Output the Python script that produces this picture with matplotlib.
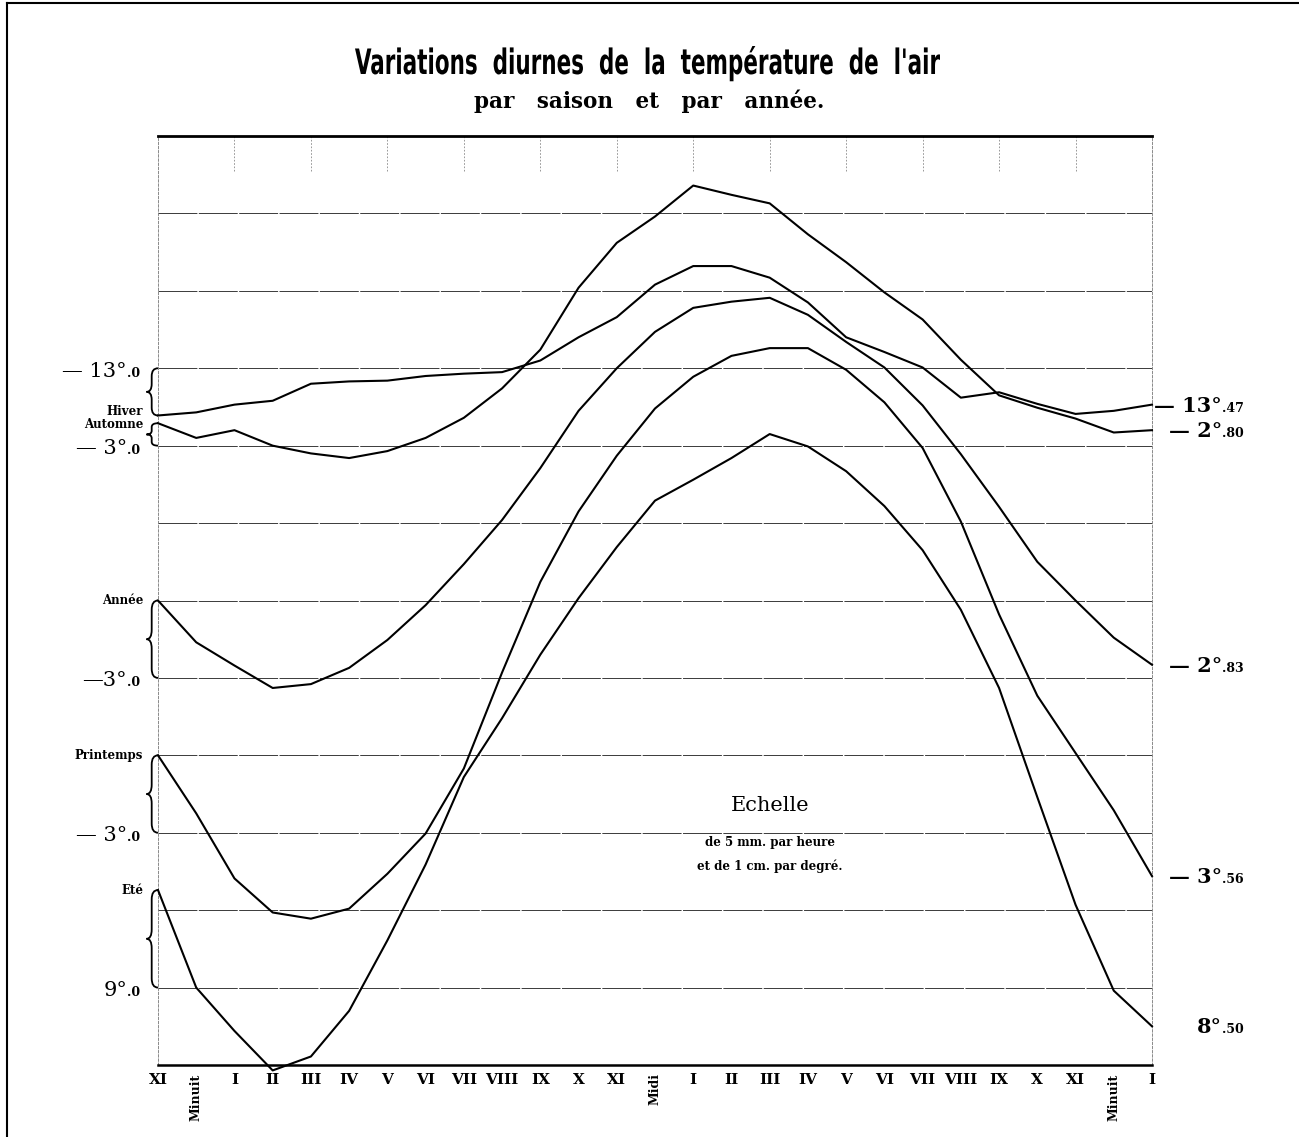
import numpy as np
import matplotlib.pyplot as plt
from matplotlib.path import Path
from matplotlib.patches import PathPatch
from matplotlib.lines import Line2D
from matplotlib.textpath import TextPath
from matplotlib.font_manager import FontProperties
from matplotlib.transforms import Affine2D

# heures, de XI du soir a I du matin (26 intervalles de 5 mm)
hours = ['XI', 'Minuit', 'I', 'II', 'III', 'IV', 'V', 'VI', 'VII', 'VIII', 'IX', 'X', 'XI',
         'Midi', 'I', 'II', 'III', 'IV', 'V', 'VI', 'VII', 'VIII', 'IX', 'X', 'XI', 'Minuit', 'I']

# temperatures (degres)
hiver = [-13.61, -13.57, -13.47, -13.42, -13.20, -13.17, -13.16, -13.10, -13.07, -13.05,
         -12.90, -12.60, -12.34, -11.92, -11.68, -11.68, -11.83, -12.15, -12.60, -12.79,
         -12.99, -13.38, -13.31, -13.46, -13.59, -13.55, -13.47]
automne = [-2.71, -2.90, -2.80, -3.00, -3.10, -3.16, -3.07, -2.90, -2.64, -2.26,
           -1.76, -0.96, -0.38, -0.04, 0.36, 0.24, 0.13, -0.27, -0.63, -1.02,
           -1.37, -1.89, -2.35, -2.51, -2.65, -2.83, -2.80]
annee = [-2.00, -2.54, -2.84, -3.13, -3.08, -2.87, -2.51, -2.06, -1.53, -0.96,
         -0.29, 0.45, 1.00, 1.47, 1.78, 1.86, 1.91, 1.69, 1.34, 1.01,
         0.52, -0.11, -0.79, -1.50, -2.00, -2.48, -2.83]
printemps = [-2.00, -2.75, -3.59, -4.03, -4.11, -3.98, -3.53, -3.01, -2.17, -0.93,
             0.24, 1.15, 1.87, 2.48, 2.89, 3.16, 3.26, 3.26, 2.98, 2.56,
             1.97, 1.02, -0.18, -1.23, -1.97, -2.71, -3.56]
ete = [10.26, 9.00, 8.44, 7.93, 8.11, 8.70, 9.61, 10.59, 11.72, 12.48,
       13.30, 14.03, 14.69, 15.29, 15.56, 15.84, 16.15, 15.99, 15.67, 15.22,
       14.65, 13.88, 12.87, 11.46, 10.07, 8.96, 8.50]

names = ['Hiver', 'Automne', 'Année', 'Printemps', 'Eté']
series = [hiver, automne, annee, printemps, ete]
ref_temp = [-13.0, -3.0, -3.0, -3.0, 9.0]      # degre de repere a gauche
ref_level = [9, 8, 5, 3, 1]                     # ligne (cm) de ce repere
ref_text = [('— 13°', '.0'), ('— 3°', '.0'), ('—3°', '.0'), ('— 3°', '.0'), ('9°', '.0')]
end_text = [('— 13°', '.47'), ('— 2°', '.80'), ('— 2°', '.83'), ('— 3°', '.56'), ('8°', '.50')]

serif = 'DejaVu Serif'
W, H = 1299, 1137

fig = plt.figure(figsize=(W / 100, H / 100), dpi=100)
ax = fig.add_axes([158 / W, 72 / H, 994 / W, 929 / H])
ax.set_xlim(0, 26)
ax.set_ylim(0, 12)
ax.set_xticks([])
ax.set_yticks([])
ax.spines['top'].set_linewidth(2.0)
ax.spines['bottom'].set_linewidth(1.8)
for s in ['left', 'right']:
    ax.spines[s].set_linestyle((0, (3, 2)))
    ax.spines[s].set_linewidth(0.6)
    ax.spines[s].set_color('#777777')

# lignes d'un centimetre (un degre)
for k in range(1, 12):
    ax.axhline(k, color='#3a3a3a', lw=0.7, ls=(0, (40, 1.5)), zorder=1)

# petits traits en haut, toutes les deux heures
for i in range(2, 26, 2):
    ax.plot([i, i], [12, 11.55], color='#888888', lw=0.6, ls=(0, (2, 2)), zorder=1)

x = np.arange(len(hours))

def to_cm(vals, ref, level):
    return level + (np.array(vals) - ref)

def brace(y_top, y_bot, x0=0.0, depth=0.3):
    xm = x0 - depth * 0.55
    xt = x0 - depth
    ym = (y_top + y_bot) / 2
    r = min(0.12, abs(y_top - y_bot) / 6)
    verts = [(x0, y_top), (xm, y_top), (xm, y_top - r),
             (xm, ym + r), (xm, ym), (xt, ym),
             (xm, ym), (xm, ym - r),
             (xm, y_bot + r), (xm, y_bot), (x0, y_bot)]
    codes = [Path.MOVETO, Path.CURVE3, Path.CURVE3, Path.LINETO, Path.CURVE3, Path.CURVE3,
             Path.CURVE3, Path.CURVE3, Path.LINETO, Path.CURVE3, Path.CURVE3]
    ax.add_patch(PathPatch(Path(verts, codes), fill=False, lw=1.3, color='black', clip_on=False))

x_left = -0.81
x_right = 27.83
name_dy = [3, -1, 0, 0, 0]

for name, vals, rt, lvl, (m0, s0), (m1, s1), ndy in zip(names, series, ref_temp, ref_level,
                                                       ref_text, end_text, name_dy):
    y = to_cm(vals, rt, lvl)
    ax.plot(x, y, color='black', lw=1.5, zorder=3, clip_on=False)
    brace(max(lvl, y[0]), min(lvl, y[0]))
    # repere a gauche
    ax.annotate(m0, (x_left, lvl), xytext=(0, -6), textcoords='offset points', ha='right',
                va='baseline', fontsize=15, family=serif, annotation_clip=False)
    ax.annotate(s0, (x_left, lvl), xytext=(0, -6), textcoords='offset points', ha='left',
                va='baseline', fontsize=9, family=serif, fontweight='bold', annotation_clip=False)
    # nom de la courbe
    ax.annotate(name, (-0.39, y[0]), xytext=(0, ndy), textcoords='offset points', ha='right',
                va='center', fontsize=8.5, family=serif, fontweight='bold', annotation_clip=False)
    # valeur finale a droite
    ax.annotate(m1, (x_right, y[-1]), xytext=(0, -5), textcoords='offset points', ha='right',
                va='baseline', fontsize=15, family=serif, fontweight='semibold', annotation_clip=False)
    ax.annotate(s1, (x_right, y[-1]), xytext=(0, -5), textcoords='offset points', ha='left',
                va='baseline', fontsize=9, family=serif, fontweight='bold', annotation_clip=False)

# heures sous l'axe
for i, h in enumerate(hours):
    if h in ('Minuit', 'Midi'):
        ax.annotate(h, (i, 0), xytext=(0, -6), textcoords='offset points', ha='center', va='top',
                    rotation=90, fontsize=9, family=serif, fontweight='bold', annotation_clip=False)
    else:
        ax.annotate(h, (i, 0), xytext=(0, -6), textcoords='offset points', ha='center', va='top',
                    fontsize=11, family=serif, fontweight='bold', annotation_clip=False)

# echelle
ax.text(16, (1065 - 806) / 77.4, 'Echelle', ha='center', va='center', fontsize=15, family=serif)
ax.text(16, (1065 - 843) / 77.4, 'de 5 mm. par heure', ha='center', va='center', fontsize=8.5,
        family=serif, fontweight='bold')
ax.text(16, (1065 - 866) / 77.4, 'et de 1 cm. par degré.', ha='center', va='center', fontsize=8.5,
        family=serif, fontweight='bold')

# titre en lettres etroites (police compressee horizontalement)
title = "Variations  diurnes  de  la  température  de  l'air"
fp = FontProperties(family='DejaVu Sans', weight='bold', stretch='condensed')
tp = TextPath((0, 0), title, size=35, prop=fp)
bb = tp.get_extents()
sx = 585 / bb.width
tr = Affine2D().translate(-bb.x0, 0).scale(sx / W, 1 / H).translate(355 / W, (H - 74) / H)
fig.add_artist(PathPatch(tp, transform=tr + fig.transFigure, color='black', lw=0))

fig.text(0.5, 1 - 101 / H, 'par   saison   et   par   année.', ha='center', va='center',
         fontsize=15.5, fontweight='heavy', family=serif)

# cadre de la planche
fig.add_artist(Line2D([7 / W, 7 / W], [0, 1 - 3 / H], color='black', lw=1.5))
fig.add_artist(Line2D([7 / W, 1], [1 - 3 / H, 1 - 3 / H], color='black', lw=1.5))

fig.savefig('out.png', dpi=100, facecolor='white')
